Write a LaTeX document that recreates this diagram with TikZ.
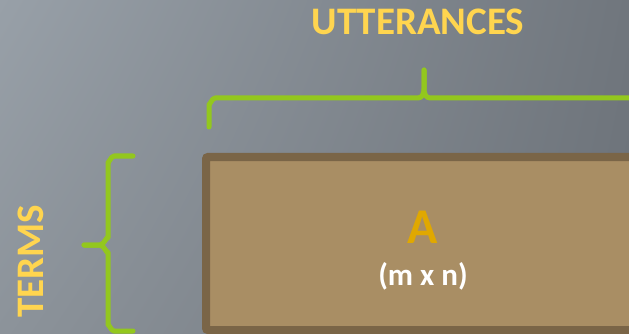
\documentclass[tikz,border=0pt]{standalone}
\usepackage{fontspec}
\setmainfont{Carlito}
\usetikzlibrary{shadings}
\definecolor{bgTL}{HTML}{98A0A8}
\definecolor{bgTR}{HTML}{70767D}
\definecolor{bgBL}{HTML}{8C939A}
\definecolor{bgBR}{HTML}{6C7279}
\definecolor{bracegreen}{HTML}{93C71E}
\definecolor{labelyellow}{HTML}{FFD54F}
\definecolor{boxborder}{HTML}{7A6547}
\definecolor{boxfill}{HTML}{A98E64}
\definecolor{letterA}{HTML}{E0A800}
\tikzset{
  bracestyle/.style={draw=bracegreen, line width=5pt, line cap=round, line join=round},
  labeltext/.style={text=labelyellow, font=\bfseries\fontsize{39}{42}\selectfont, inner sep=0pt},
  matrixbox/.style={draw=boxborder, fill=boxfill, line width=8pt, rounded corners=2pt}
}
\begin{document}
\begin{tikzpicture}[x=1pt,y=-1pt]
\useasboundingbox (0,0) rectangle (629,334);
\shade[upper left=bgTL, upper right=bgTR, lower left=bgBL, lower right=bgBR] (0,0) rectangle (629,334);
% matrix box
\path[matrixbox] (206,157) rectangle (640,330);
\node[text=letterA, font=\bfseries\fontsize{50}{52}\selectfont, inner sep=0pt, anchor=base] (A) at (423,243) {A};
\node[text=white, font=\bfseries\fontsize{31}{33}\selectfont, inner sep=0pt, anchor=base] (dim) at (423,285) {(m x n)};
% labels
\node[labeltext, anchor=base] (utt) at (418,35) {UTTERANCES};
\node[labeltext, rotate=90, anchor=base] (terms) at (43,261) {TERMS};
% horizontal brace
\coordinate (hb0) at (209,127);
\coordinate (hbtip) at (424,70);
\draw[bracestyle] (hb0) -- (209,104) to[out=-90,in=180] (215,98) -- (418,98) to[out=0,in=-90] (424,89) -- (hbtip);
\draw[bracestyle] (hbtip) -- (424,89) to[out=-90,in=180] (430,98) -- (640,98);
% vertical brace
\coordinate (vbtop) at (133,156);
\coordinate (vbtip) at (84,245);
\coordinate (vbbot) at (133,331);
\draw[bracestyle] (vbtop) -- (114,156) to[out=180,in=-90] (108,162) -- (108,238) to[out=90,in=0] (100,245) -- (vbtip);
\draw[bracestyle] (vbtip) -- (100,245) to[out=0,in=-90] (108,252) -- (108,325) to[out=90,in=180] (114,331) -- (vbbot);
\end{tikzpicture}
\end{document}
